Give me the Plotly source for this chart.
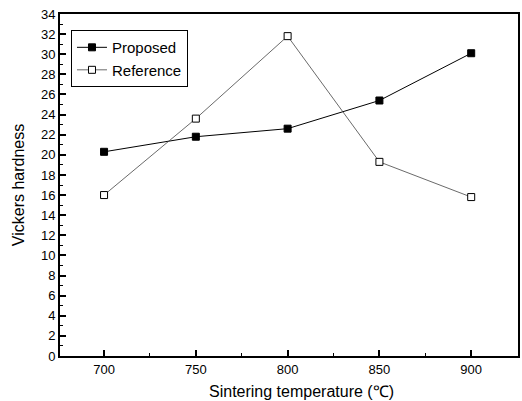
import plotly.graph_objects as go

temps = [700, 750, 800, 850, 900]
proposed = [20.3, 21.8, 22.6, 25.4, 30.1]
reference = [16.0, 23.6, 31.8, 19.3, 15.8]

fig = go.Figure()
fig.add_trace(go.Scatter(
    x=temps, y=proposed, name="Proposed", mode="lines+markers",
    line=dict(color="black", width=1),
    marker=dict(symbol="square", size=7, color="black", line=dict(color="black", width=1)),
))
fig.add_trace(go.Scatter(
    x=temps, y=reference, name="Reference", mode="lines+markers",
    line=dict(color="#444444", width=0.8),
    marker=dict(symbol="square", size=7, color="white", line=dict(color="black", width=1)),
))

fig.update_layout(
    width=522, height=401,
    margin=dict(l=60, r=4, t=14, b=45),
    paper_bgcolor="white", plot_bgcolor="white",
    font=dict(family="Liberation Sans, Arial", color="black", size=13),
    showlegend=True,
    legend=dict(x=0.024, y=0.953, xanchor="left", yanchor="top",
                bordercolor="black", borderwidth=1, bgcolor="white",
                font=dict(size=15), tracegroupgap=0, itemwidth=30),
    xaxis=dict(range=[676, 925.5], tickvals=temps, showgrid=False, zeroline=False,
               showline=True, linecolor="black", linewidth=2, mirror=True,
               ticks="inside", ticklen=6, tickwidth=1.5, tickcolor="black",
               minor=dict(ticks="inside", ticklen=3, tickwidth=1, dtick=25, tickcolor="black"),
               automargin=False, tickfont=dict(size=13)),
    yaxis=dict(range=[0, 34], dtick=2, showgrid=False, zeroline=False,
               showline=True, linecolor="black", linewidth=2, mirror=True,
               ticks="inside", ticklen=6, tickwidth=1.5, tickcolor="black",
               minor=dict(ticks="inside", ticklen=3, tickwidth=1, dtick=1, tickcolor="black"),
               automargin=False,
               title=dict(text="Vickers hardness", font=dict(size=16), standoff=12),
               tickfont=dict(size=13)),
    annotations=[dict(text="Sintering temperature (\u2103)", xref="paper", yref="paper",
                      x=(301 - 60) / 458, y=-(391 - 356) / 342, xanchor="center", yanchor="middle",
                      showarrow=False, font=dict(size=16))],
)

fig.write_html("out.html", config={"displayModeBar": False},
               post_script="document.body.style.margin='0';document.body.style.overflow='hidden';")
